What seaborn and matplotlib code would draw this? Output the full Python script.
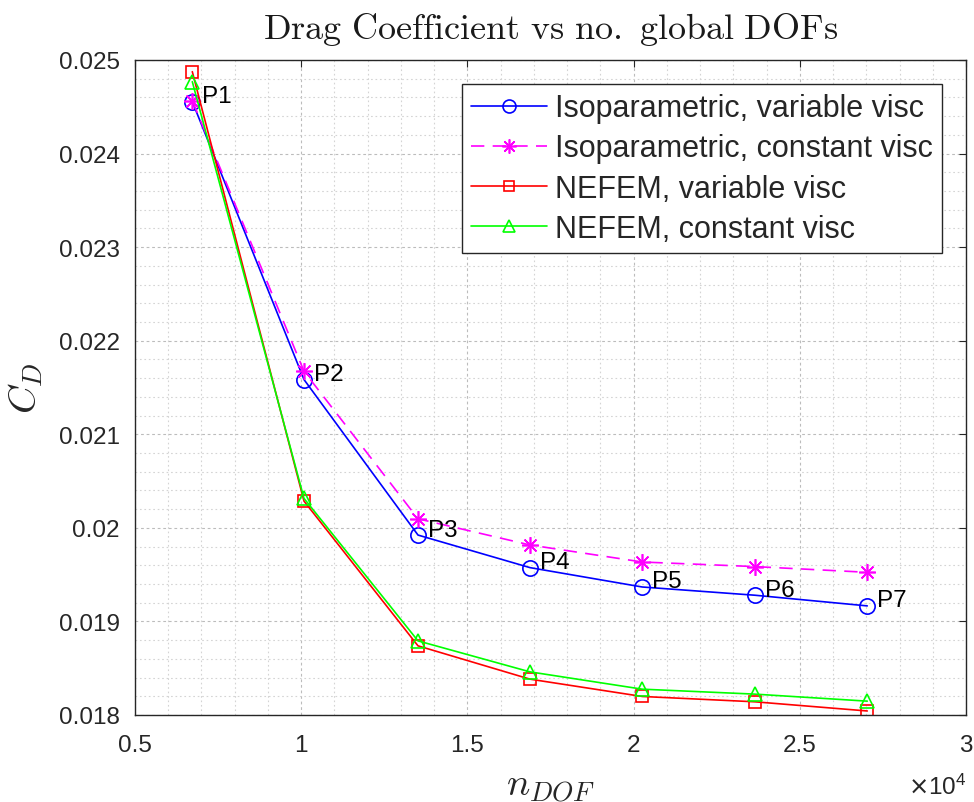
import matplotlib
matplotlib.use("Agg")
import matplotlib.pyplot as plt
from matplotlib.ticker import MultipleLocator, FuncFormatter
import numpy as np
import pandas as pd
import seaborn as sns

# Mesh refinement levels: number of global degrees of freedom
n_dof = [6724, 10084, 13514, 16883, 20260, 23650, 27030]
point_labels = ["P1", "P2", "P3", "P4", "P5", "P6", "P7"]

# Drag coefficient for each discretisation / viscosity model
cd_iso_variable = [0.024555, 0.021585, 0.019923, 0.019575, 0.019368, 0.019280, 0.019166]
cd_iso_constant = [0.024566, 0.021673, 0.020097, 0.019817, 0.019635, 0.019586, 0.019525]
cd_nefem_variable = [0.024875, 0.020286, 0.018739, 0.018383, 0.018198, 0.018141, 0.018043]
cd_nefem_constant = [0.024768, 0.020315, 0.018792, 0.018461, 0.018276, 0.018223, 0.018148]

series_names = [
    "Isoparametric, variable visc",
    "Isoparametric, constant visc",
    "NEFEM, variable visc",
    "NEFEM, constant visc",
]

df = pd.DataFrame({
    "n_dof": n_dof * 4,
    "cd": cd_iso_variable + cd_iso_constant + cd_nefem_variable + cd_nefem_constant,
    "method": [name for name in series_names for _ in n_dof],
})

# asterisk marker: eight thin arms, like "+" and "x" overlaid
asterisk = (8, 2, 0)
styles = {
    "Isoparametric, variable visc": dict(color=(0, 0, 1), marker="o", ls="-", ms=11, mew=1.2),
    "Isoparametric, constant visc": dict(color=(1, 0, 1), marker=asterisk, ls=(0, (8, 5)), ms=12, mew=1.2),
    "NEFEM, variable visc": dict(color=(1, 0, 0), marker="s", ls="-", ms=9, mew=1.2),
    "NEFEM, constant visc": dict(color=(0, 1, 0), marker="^", ls="-", ms=10, mew=1.2),
}

sns.set_style("white")
plt.rcParams["font.family"] = ["Liberation Sans", "DejaVu Sans"]
plt.rcParams["mathtext.fontset"] = "cm"

fig = plt.figure(figsize=(9.74, 8.03), dpi=100)
ax = fig.add_axes([135 / 974, 1 - 716 / 803, (966 - 135) / 974, (716 - 61) / 803])

for name in series_names:
    st = styles[name]
    sub = df[df["method"] == name]
    sns.lineplot(
        data=sub, x="n_dof", y="cd", ax=ax, color=st["color"], label=name,
        marker=st["marker"], markersize=st["ms"], markerfacecolor="none",
        markeredgecolor=st["color"], markeredgewidth=st["mew"],
        linestyle=st["ls"], linewidth=1.2, estimator=None, sort=False,
    )

# point labels next to the isoparametric variable-viscosity curve
for xv, yv, lab in zip(n_dof, cd_iso_variable, point_labels):
    ax.annotate(lab, (xv, yv), xytext=(7, 4), textcoords="offset points",
                ha="left", va="center", fontsize=17.5, color="black")

ax.set_xlim(5000, 30000)
ax.set_ylim(0.018, 0.025)
ax.xaxis.set_major_locator(MultipleLocator(5000))
ax.xaxis.set_minor_locator(MultipleLocator(1000))
ax.yaxis.set_major_locator(MultipleLocator(0.001))
ax.yaxis.set_minor_locator(MultipleLocator(0.0002))
ax.xaxis.set_major_formatter(FuncFormatter(lambda v, p: f"{v / 1e4:g}"))
ax.yaxis.set_major_formatter(FuncFormatter(lambda v, p: f"{round(v, 4):g}"))

ax.grid(True, which="major", color="#bcbcbc", linestyle=(0, (2.5, 2.5)), linewidth=0.8)
ax.grid(True, which="minor", color="#d4d4d4", linestyle=(0, (1.5, 2.5)), linewidth=0.8)
ax.set_axisbelow(True)

ax.tick_params(which="major", direction="in", length=5, width=0.8, top=True, right=True,
               labelsize=17.5, colors="#262626")
ax.tick_params(axis="x", which="major", pad=14)
ax.tick_params(axis="y", which="major", pad=11)
ax.tick_params(which="minor", length=0, top=True, right=True)
for sp in ax.spines.values():
    sp.set_color("#262626")
    sp.set_linewidth(1.0)

ax.set_title(r"$\mathrm{Drag\ Coefficient\ vs\ no.\ global\ DOFs}$", fontsize=26, pad=16,
             color="#1a1a1a")
ax.set_xlabel(r"$n_{DOF}$", fontsize=28, labelpad=8, color="#262626")
ax.set_ylabel(r"$C_D$", fontsize=28, labelpad=10, color="#262626")

# exponent of the x axis, bottom right under the last tick label
fig.text(967 / 974, 3 / 803, r"$\times\mathregular{10^{4}}$", ha="right", va="bottom",
         fontsize=17.5, color="#262626", math_fontfamily="dejavusans")

leg = ax.legend(loc="upper right", bbox_to_anchor=(0.971, 0.963), fontsize=22,
                frameon=True, fancybox=False, edgecolor="#262626", framealpha=1,
                handlelength=2.5, borderpad=0.3, labelspacing=0.33, handletextpad=0.25,
                borderaxespad=0, markerscale=0.85)
leg.get_frame().set_linewidth(1.0)

fig.savefig("out.png", dpi=100)
